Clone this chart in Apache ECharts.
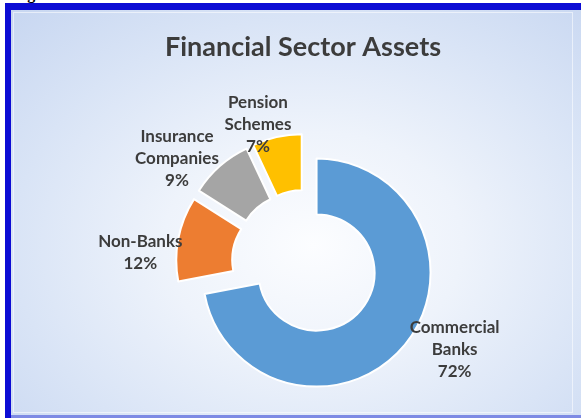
<!DOCTYPE html>
<html>
<head>
<meta charset="utf-8">
<script src="https://cdn.jsdelivr.net/npm/echarts@6/dist/echarts.min.js"></script>
<style>
  html, body { margin: 0; padding: 0; background: #ffffff; overflow: hidden; }
  #page { position: relative; width: 581px; height: 418px; }
  #caption { position: absolute; left: 13px; top: -14px; font: bold 16px "Liberation Serif", serif; color: #000; line-height: 16px; white-space: nowrap; }
  #panel {
    position: absolute; left: 11px; top: 10px; width: 570px; height: 405px;
    background: radial-gradient(ellipse 75% 80% at 53% 58%, #fcfdff 0%, #eef3fb 35%, #d9e4f6 70%, #c8d7f1 100%);
  }
  #frameTop { position: absolute; left: 5px; top: 3px; width: 576px; height: 7px; background: #0c0cd4; }
  #frameLeft { position: absolute; left: 5px; top: 3px; width: 6px; height: 415px; background: #0c0cd4; }
  #frameBottom { position: absolute; left: 11px; top: 415px; width: 570px; height: 3px; background: #7d8ae4; }
  #inner { position: absolute; left: 13px; top: 12px; width: 558px; height: 399px; border: 1px solid rgba(255,255,255,0.55); }
  #chart { position: absolute; left: 0; top: 0; width: 581px; height: 418px; }
</style>
</head>
<body>
<div id="page">
  <div id="caption">Figure</div>
  <div id="panel"></div>
  <div id="inner"></div>
  <div id="frameTop"></div>
  <div id="frameLeft"></div>
  <div id="frameBottom"></div>
  <div id="chart"></div>
</div>
<script>
// Share of total financial sector assets, by institution type (%)
const categories = ['Commercial\nBanks', 'Non-Banks', 'Insurance\nCompanies', 'Pension\nSchemes'];
const shares = [72, 12, 9, 7];
const colors = ['#5b9bd5', '#ed7d31', '#a5a5a5', '#ffc000'];

// label anchors: distance from the ring centre and a turn relative to the slice middle
const labelRadius = [173, 165, 165, 146];
const labelTurn = [-9.5, -7.3, -9.5, -6.2];

const center = [305, 263];

const total = shares.reduce((a, b) => a + b, 0);
const midAngles = [];
let acc = 0;
shares.forEach(v => {
  midAngles.push((acc + v / 2) / total * 360);
  acc += v;
});

// data labels, placed around the ring from each slice's middle angle
const labelTexts = categories.map((name, i) => {
  const a = (midAngles[i] + labelTurn[i]) * Math.PI / 180;
  return {
    type: 'text',
    z: 10,
    x: center[0] + labelRadius[i] * Math.sin(a),
    y: center[1] - labelRadius[i] * Math.cos(a),
    style: {
      text: name + '\n' + shares[i] + '%',
      align: 'center',
      verticalAlign: 'middle',
      fontFamily: 'Lato',
      fontWeight: 'bold',
      fontSize: 17,
      lineHeight: 22,
      fill: '#3c3c3c'
    }
  };
});

const chart = echarts.init(document.getElementById('chart'), null, { renderer: 'canvas' });

chart.setOption({
  backgroundColor: 'transparent',
  animation: false,
  title: {
    text: 'Financial Sector Assets',
    left: 298,
    textAlign: 'center',
    top: 29,
    textStyle: { fontFamily: 'Lato', fontWeight: 'bold', fontSize: 27, color: '#3c3c3c' }
  },
  graphic: labelTexts,
  series: [{
    type: 'pie',
    center: center,
    radius: [58, 114],
    startAngle: 90,
    clockwise: true,
    // every slice is pulled slightly away from the centre
    selectedMode: 'multiple',
    selectedOffset: 15,
    emphasis: { disabled: true },
    select: { itemStyle: { borderColor: '#ffffff', borderWidth: 2 } },
    itemStyle: { borderColor: '#ffffff', borderWidth: 2 },
    label: { show: false },
    labelLine: { show: false },
    data: categories.map((name, i) => ({
      name: name,
      value: shares[i],
      selected: true,
      itemStyle: { color: colors[i] }
    }))
  }]
});
</script>
</body>
</html>
